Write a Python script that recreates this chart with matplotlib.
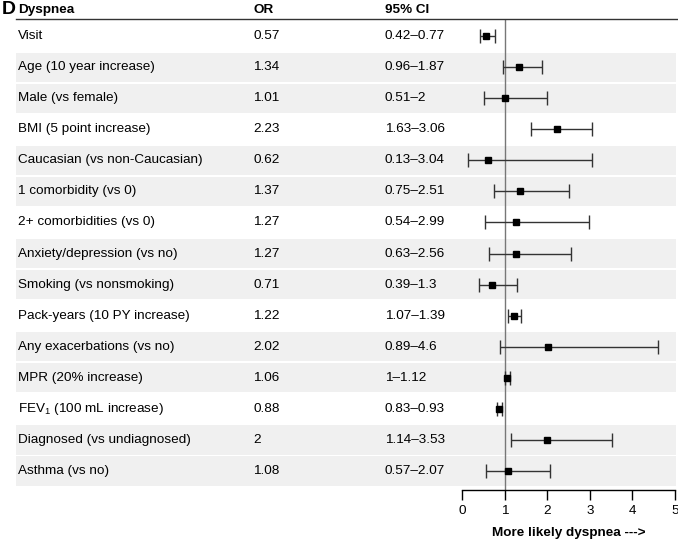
import matplotlib.pyplot as plt
from matplotlib.transforms import blended_transform_factory

plt.rcParams['font.family'] = ['Liberation Sans', 'DejaVu Sans']
plt.rcParams['mathtext.fontset'] = 'custom'
plt.rcParams['mathtext.rm'] = 'Liberation Sans'

labels = ['Visit', 'Age (10 year increase)', 'Male (vs female)', 'BMI (5 point increase)',
          'Caucasian (vs non-Caucasian)', '1 comorbidity (vs 0)', '2+ comorbidities (vs 0)',
          'Anxiety/depression (vs no)', 'Smoking (vs nonsmoking)', 'Pack-years (10 PY increase)',
          'Any exacerbations (vs no)', 'MPR (20% increase)', r'FEV$_\mathregular{1}$ (100 mL increase)',
          'Diagnosed (vs undiagnosed)', 'Asthma (vs no)']
odds = [0.57, 1.34, 1.01, 2.23, 0.62, 1.37, 1.27, 1.27, 0.71, 1.22, 2.02, 1.06, 0.88, 2, 1.08]
ci_low = [0.42, 0.96, 0.51, 1.63, 0.13, 0.75, 0.54, 0.63, 0.39, 1.07, 0.89, 1, 0.83, 1.14, 0.57]
ci_high = [0.77, 1.87, 2, 3.06, 3.04, 2.51, 2.99, 2.56, 1.3, 1.39, 4.6, 1.12, 0.93, 3.53, 2.07]
or_text = ['0.57', '1.34', '1.01', '2.23', '0.62', '1.37', '1.27', '1.27', '0.71', '1.22',
           '2.02', '1.06', '0.88', '2', '1.08']
ci_text = ['0.42–0.77', '0.96–1.87', '0.51–2', '1.63–3.06', '0.13–3.04', '0.75–2.51',
           '0.54–2.99', '0.63–2.56', '0.39–1.3', '1.07–1.39', '0.89–4.6', '1–1.12',
           '0.83–0.93', '1.14–3.53', '0.57–2.07']

W, H = 678, 539
fig = plt.figure(figsize=(W / 100, H / 100), dpi=100)
ax = fig.add_axes([462 / W, (H - 490) / H, (675 - 462) / W, (490 - 19) / H])

rows = list(range(len(labels)))
ax.set_ylim(14.61, -0.55)
ax.set_xlim(0, 5)

# shaded bands: pattern white, grey, grey
for i in rows:
    if i % 3 != 0:
        ax.axhspan(i - 0.47, i + 0.47, xmin=(16 - 462) / 213, xmax=(676 - 462) / 213,
                   color='#f0f0f0', lw=0, clip_on=False, zorder=0)

ax.axvline(1, color='#777777', lw=1, zorder=1)
xerr = [[o - l for o, l in zip(odds, ci_low)], [h - o for o, h in zip(odds, ci_high)]]
ax.errorbar(odds, rows, xerr=xerr, fmt='s', color='black', ecolor='#333333',
            markersize=5, elinewidth=1, capsize=4.8, capthick=1, zorder=3)

for s in ['top', 'right', 'left']:
    ax.spines[s].set_visible(False)
ax.spines['bottom'].set_linewidth(1)
ax.set_yticks([])
ax.set_xticks([0, 1, 2, 3, 4, 5])
ax.tick_params(axis='x', length=7, width=1, labelsize=9.7, pad=4)
ax.set_xlabel('More likely dyspnea --->', fontsize=9.7, fontweight='bold', labelpad=7)
ax.patch.set_alpha(0)

tr = blended_transform_factory(fig.transFigure, ax.transData)
for i in rows:
    fig.text(18 / W, i, labels[i], transform=tr, fontsize=9.7, va='center', ha='left')
    fig.text(253 / W, i, or_text[i], transform=tr, fontsize=9.7, va='center', ha='left')
    fig.text(385 / W, i, ci_text[i], transform=tr, fontsize=9.7, va='center', ha='left')

# header
hy = 1 - 10 / H
fig.text(2 / W, hy, 'D', fontsize=14, fontweight='bold', va='center', ha='left')
fig.text(18 / W, hy, 'Dyspnea', fontsize=9.7, fontweight='bold', va='center', ha='left')
fig.text(253 / W, hy, 'OR', fontsize=9.7, fontweight='bold', va='center', ha='left')
fig.text(385 / W, hy, '95% CI', fontsize=9.7, fontweight='bold', va='center', ha='left')
fig.add_artist(plt.Line2D([16 / W, 1], [1 - 19 / H, 1 - 19 / H], color='#333333', lw=1))

fig.savefig('out.png', dpi=100)
